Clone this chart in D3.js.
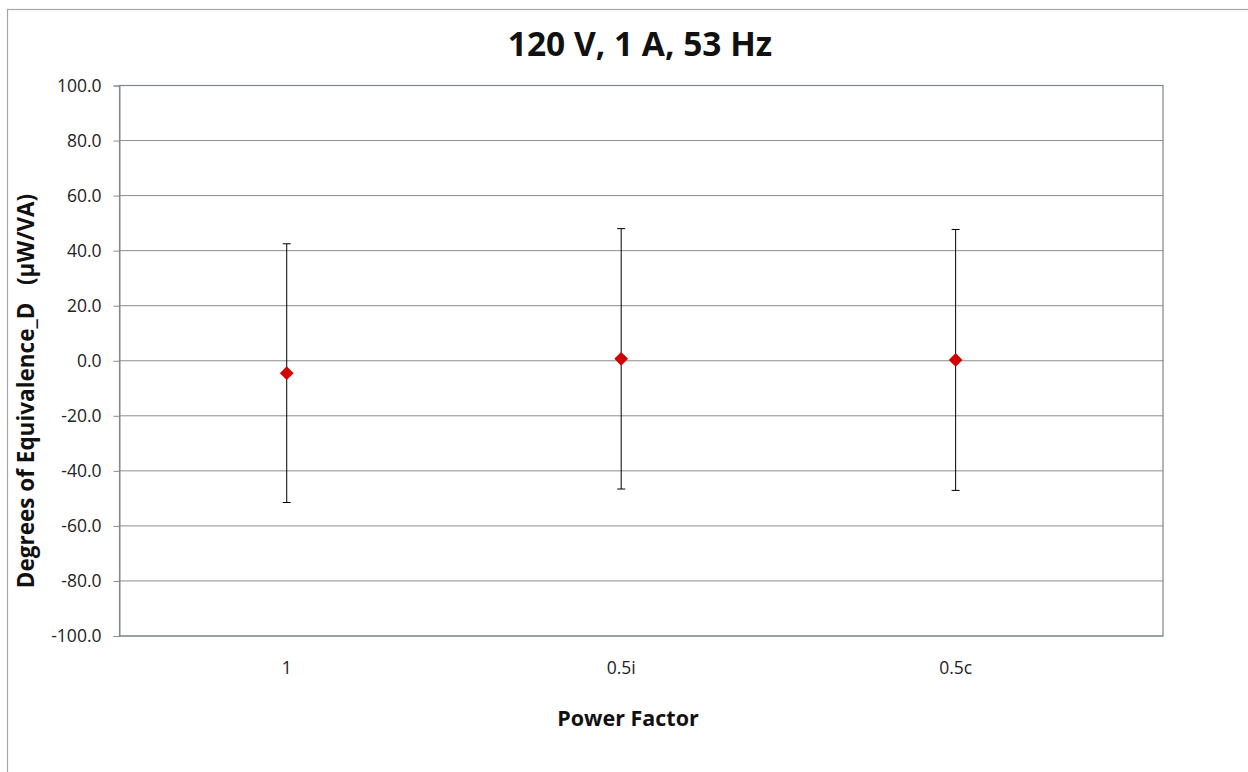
<!DOCTYPE html>
<html>
<head>
<meta charset="utf-8">
<script src="https://cdn.jsdelivr.net/npm/d3@7"></script>
<style>
  body { margin: 0; background: #fff; }
  svg { display: block; font-family: "Open Sans", sans-serif; }
</style>
</head>
<body>
<div id="chart"></div>
<script>
// data
const categories = ["1", "0.5i", "0.5c"]
const xPos = [1, 2, 3]
const values = [-4.5, 0.7, 0.3]
const uncert = [47.0, 47.3, 47.4]
const yTicks = [-100, -80, -60, -40, -20, 0, 20, 40, 60, 80, 100]

const width = 1248, height = 772
const margin = ({ top: 85.5, right: 85, bottom: 136, left: 119.5 })

const x = d3.scaleLinear()
    .domain([0.5, 3.62])
    .range([margin.left, width - margin.right])

const y = d3.scaleLinear()
    .domain([-100, 100])
    .range([height - margin.bottom, margin.top])

const fmt = d => d3.format(".1f")(d).replace("\u2212", "-")

const svg = d3.select("#chart")
    .append("svg")
    .attr("width", width)
    .attr("height", height)

// outer chart border (right / bottom run off the page)
svg.append("rect")
    .attr("x", 7.5).attr("y", 9.5)
    .attr("width", width + 10).attr("height", height + 10)
    .attr("fill", "none")
    .attr("stroke", "#a6a6a6")
    .attr("stroke-width", 1.2)

// gridlines
svg.append("g")
    .attr("stroke", "#8c8c8c")
    .selectAll("line")
    .data(yTicks)
    .join("line")
    .attr("x1", margin.left)
    .attr("x2", width - margin.right)
    .attr("y1", d => y(d))
    .attr("y2", d => y(d))

// plot area border
svg.append("rect")
    .attr("x", margin.left)
    .attr("y", margin.top)
    .attr("width", width - margin.left - margin.right)
    .attr("height", height - margin.top - margin.bottom)
    .attr("fill", "none")
    .attr("stroke", "#7a8690")
    .attr("stroke-width", 1.2)

// y axis
const yAxis = g => g
    .attr("transform", `translate(${margin.left},0)`)
    .call(d3.axisLeft(y).tickValues(yTicks).tickFormat(fmt).tickSize(6).tickPadding(12))
    .call(g => g.select(".domain").attr("stroke", "#8c8c8c"))
    .call(g => g.selectAll(".tick line").attr("stroke", "#8c8c8c"))
    .call(g => g.selectAll("text")
        .attr("fill", "#222")
        .attr("font-size", 17.5)
        .attr("font-family", "'Open Sans', sans-serif"))

svg.append("g").call(yAxis)

// x labels at the points
svg.append("g")
    .selectAll("text")
    .data(categories)
    .join("text")
    .attr("x", (d, i) => x(xPos[i]))
    .attr("y", 674)
    .attr("text-anchor", "middle")
    .attr("font-size", 17.5)
    .attr("fill", "#222")
    .text(d => d)

// error bars
const bars = svg.append("g")
    .attr("stroke", "#000")
    .attr("stroke-width", 1)
    .selectAll("g")
    .data(values)
    .join("g")

bars.append("line")
    .attr("x1", (d, i) => x(xPos[i]))
    .attr("x2", (d, i) => x(xPos[i]))
    .attr("y1", (d, i) => y(d + uncert[i]))
    .attr("y2", (d, i) => y(d - uncert[i]))

bars.append("line")
    .attr("x1", (d, i) => x(xPos[i]) - 4)
    .attr("x2", (d, i) => x(xPos[i]) + 4)
    .attr("y1", (d, i) => y(d + uncert[i]))
    .attr("y2", (d, i) => y(d + uncert[i]))

bars.append("line")
    .attr("x1", (d, i) => x(xPos[i]) - 4)
    .attr("x2", (d, i) => x(xPos[i]) + 4)
    .attr("y1", (d, i) => y(d - uncert[i]))
    .attr("y2", (d, i) => y(d - uncert[i]))

// diamond markers
svg.append("g")
    .attr("fill", "#d40000")
    .selectAll("path")
    .data(values)
    .join("path")
    .attr("transform", (d, i) => `translate(${x(xPos[i])},${y(d)})`)
    .attr("d", d3.symbol(d3.symbolDiamond2, 120))

// title
svg.append("text")
    .attr("x", 640)
    .attr("y", 56)
    .attr("text-anchor", "middle")
    .attr("font-size", 33.5)
    .attr("font-weight", "bold")
    .attr("fill", "#111")
    .text("120 V, 1 A, 53 Hz")

// axis titles
svg.append("text")
    .attr("x", 628)
    .attr("y", 726)
    .attr("text-anchor", "middle")
    .attr("font-size", 21.5)
    .attr("font-weight", "bold")
    .attr("fill", "#111")
    .text("Power Factor")

svg.append("text")
    .attr("transform", "translate(34,391) rotate(-90)")
    .attr("text-anchor", "middle")
    .attr("font-size", 22.5)
    .attr("font-weight", "bold")
    .attr("fill", "#111")
    .style("white-space", "pre")
    .text("Degrees of Equivalence_D   (\u00b5W/VA)")
</script>
</body>
</html>
